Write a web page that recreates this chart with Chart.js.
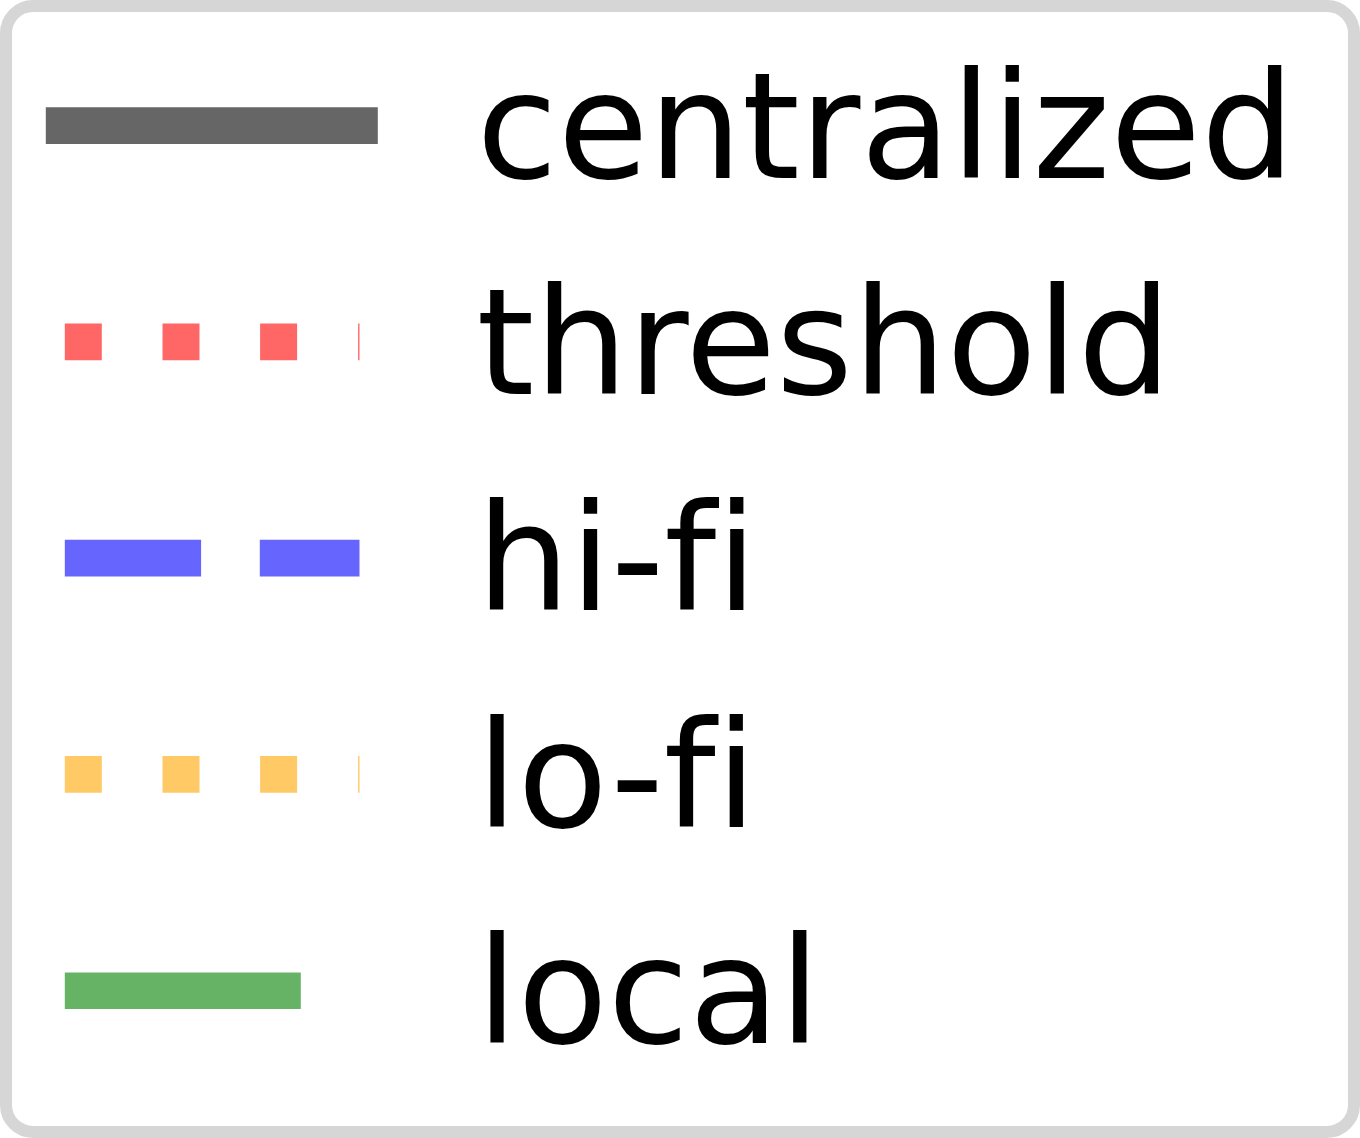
<!DOCTYPE html>
<html>
<head>
<meta charset="utf-8">
<script src="https://cdn.jsdelivr.net/npm/chart.js@4/dist/chart.umd.min.js"></script>
<style>
  html, body { margin: 0; padding: 0; background: #ffffff; }
  #frame {
    position: relative;
    width: 1360px; height: 1138px;
    box-sizing: border-box;
    border: 12px solid #d6d6d6;
    border-radius: 33px;
    overflow: hidden;
    background: #ffffff;
  }
  #c { position: absolute; left: -35px; top: -29px; }
</style>
</head>
<body>
<div id="frame"><canvas id="c" width="1400" height="1200"></canvas></div>
<script>
// Series shown in the legend (the reference image contains only the legend)
const seriesNames = ['centralized', 'threshold', 'hi-fi', 'lo-fi', 'local'];
const categories = [];
const seriesValues = [[], [], [], [], []];

const seriesColors = ['#666666', '#ff6666', '#6666ff', '#ffc966', '#66b366'];
const seriesDashes = [
  [332, 1000],
  [0, 19, 37, 60.7, 37, 60.6, 37, 61, 1.4, 1000],
  [0, 19, 136.3, 58.7, 99.7, 1000],
  [0, 19, 37, 60.7, 37, 60.6, 37, 61, 1.4, 1000],
  [0, 19, 236, 1000]
];

const datasets = seriesNames.map((name, i) => ({
  label: name,
  data: seriesValues[i],
  borderColor: seriesColors[i],
  backgroundColor: seriesColors[i],
  borderDash: seriesDashes[i],
  borderWidth: 36.7,
  pointStyle: 'line'
}));

// no ligatures (matplotlib draws "f" and "i" separately)
const noLigatures = {
  id: 'noLigatures',
  beforeDraw(chart) { chart.ctx.letterSpacing = '0.01px'; }
};

new Chart(document.getElementById('c'), {
  type: 'line',
  data: { labels: categories, datasets },
  plugins: [noLigatures],
  options: {
    responsive: false,
    devicePixelRatio: 1,
    animation: false,
    events: [],
    scales: { x: { display: false }, y: { display: false } },
    plugins: {
      tooltip: { enabled: false },
      legend: {
        display: true,
        position: 'top',
        align: 'start',
        maxHeight: 3000,
        labels: {
          usePointStyle: true,
          pointStyleWidth: 357,
          padding: 68.8,
          color: '#000000',
          font: { family: 'DejaVu Sans', size: 147.5, lineHeight: '14px' },
          generateLabels: (chart) => chart.data.datasets.map((ds, i) => ({
            text: ['', ds.label],
            fillStyle: ds.borderColor,
            strokeStyle: ds.borderColor,
            lineWidth: ds.borderWidth,
            lineDash: ds.borderDash,
            lineCap: 'butt',
            pointStyle: 'line',
            hidden: false,
            datasetIndex: i
          }))
        }
      }
    }
  }
});
</script>
</body>
</html>
